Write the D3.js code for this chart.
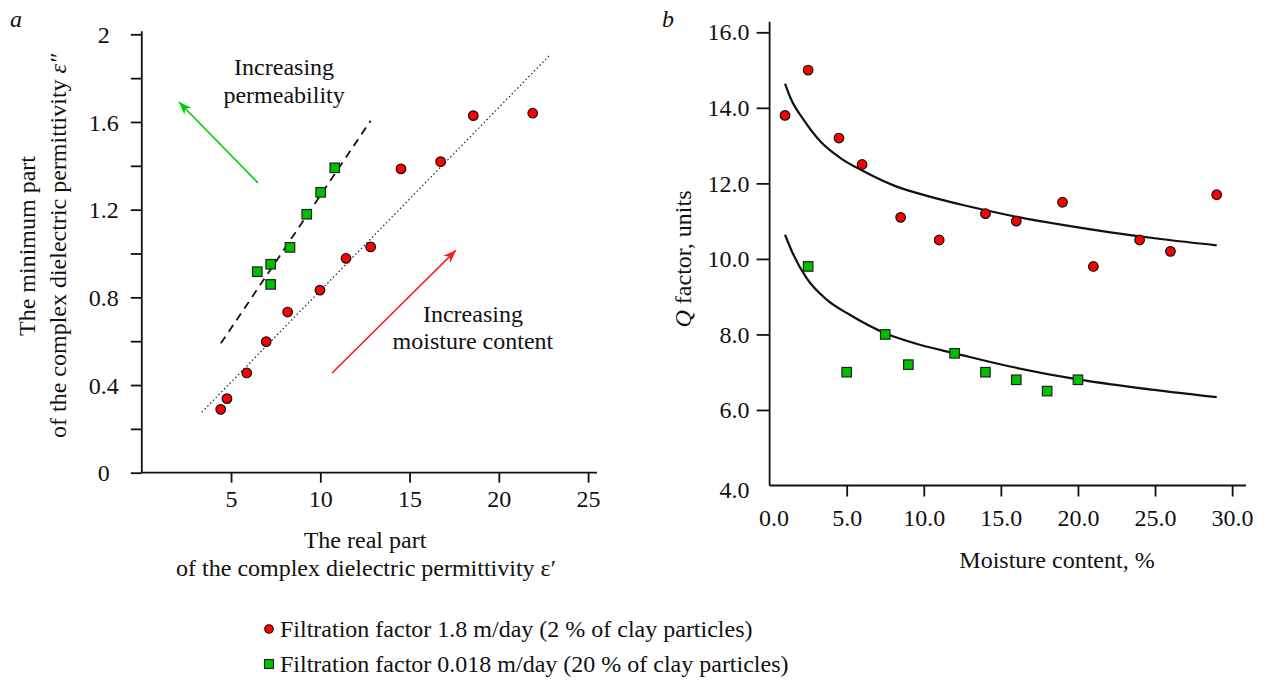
<!DOCTYPE html>
<html>
<head>
<meta charset="utf-8">
<script src="https://cdn.jsdelivr.net/npm/d3@7"></script>
<style>
  body { margin: 0; background: #fff; }
  svg { display: block; font-family: 'Liberation Serif', 'Times New Roman', serif; }
  .axis path, .axis line { stroke: #111; stroke-width: 1.8; }
  .axis text { font-size: 24px; fill: #111; font-family: 'Liberation Serif', serif; }
  .lbl { font-size: 24px; fill: #111; }
</style>
</head>
<body>
<div id="vis"></div>
<script>

/* Data */
/* ---- */

// a: real part vs imaginary part of the permittivity
var aRedX   = [4.42, 4.77, 5.88, 6.97, 8.17, 9.98, 11.44, 12.82, 14.52, 16.74, 18.57, 21.90];
var aRedY   = [0.289, 0.338, 0.455, 0.598, 0.733, 0.833, 0.978, 1.030, 1.386, 1.419, 1.629, 1.640];
var aGreenX = [6.47, 7.22, 7.22, 8.30, 9.24, 10.02, 10.81];
var aGreenY = [0.917, 0.951, 0.859, 1.028, 1.179, 1.279, 1.391];
var aRedTrend   = [[3.36, 0.276], [22.81, 1.901]];   // dotted
var aGreenTrend = [[4.43, 0.590], [12.82, 1.606]];   // dashed
var aXTicks = [5, 10, 15, 20, 25];
var aYTicks = [0, 0.2, 0.4, 0.6, 0.8, 1.0, 1.2, 1.4, 1.6, 1.8, 2.0];

// b: moisture content vs Q factor
var bRedX   = [1.0, 2.5, 4.5, 6.0, 8.5, 11.0, 14.0, 16.0, 19.0, 21.0, 24.0, 26.0, 29.0];
var bRedY   = [13.8, 15.0, 13.2, 12.5, 11.1, 10.5, 11.2, 11.0, 11.5, 9.8, 10.5, 10.2, 11.7];
var bGreenX = [2.5, 5.0, 7.5, 9.0, 12.0, 14.0, 16.0, 18.0, 20.0];
var bGreenY = [9.8, 7.0, 8.0, 7.2, 7.5, 7.0, 6.8, 6.5, 6.8];
var bUpperX = [1.0, 1.4, 2.2, 3.3, 4.6, 6.1, 8.2, 10.4, 12.6, 15.6, 19.0, 22.0, 25.5, 29.0];
var bUpperY = [14.64, 14.22, 13.69, 13.11, 12.67, 12.32, 11.92, 11.65, 11.42, 11.15, 10.90, 10.71, 10.52, 10.36];
var bLowerX = [1.0, 1.5, 2.4, 3.7, 5.2, 7.5, 9.8, 12.0, 15.6, 20.0, 24.0, 29.0];
var bLowerY = [10.64, 10.15, 9.49, 8.92, 8.52, 8.03, 7.72, 7.50, 7.15, 6.81, 6.58, 6.34];
var bXTicks = [0, 5, 10, 15, 20, 25, 30];
var bYTicks = [4, 6, 8, 10, 12, 14, 16];

var legendLabels = [
  'Filtration factor 1.8 m/day (2 % of clay particles)',
  'Filtration factor 0.018 m/day (20 % of clay particles)'
];

var RED = '#ff0000', GREEN = '#00c000';

/* Helpers */
/* ------- */

function zip(xs, ys) { return xs.map(function(x, i) { return [x, ys[i]]; }); }

function drawCircles(g, pts, x, y) {
  g.selectAll(null).data(pts).enter().append('circle')
    .attr('cx', function(d) { return x(d[0]); })
    .attr('cy', function(d) { return y(d[1]); })
    .attr('r', 4.8)
    .attr('fill', RED).attr('stroke', '#111').attr('stroke-width', 1.2);
}

function drawSquares(g, pts, x, y) {
  var s = 9.5;
  g.selectAll(null).data(pts).enter().append('rect')
    .attr('x', function(d) { return x(d[0]) - s / 2; })
    .attr('y', function(d) { return y(d[1]) - s / 2; })
    .attr('width', s).attr('height', s)
    .attr('fill', GREEN).attr('stroke', '#222').attr('stroke-width', 1.2);
}

function arrow(g, from, to, colour, x, y) {
  var x1 = x(from[0]), y1 = y(from[1]), x2 = x(to[0]), y2 = y(to[1]);
  var ang = Math.atan2(y2 - y1, x2 - x1) * 180 / Math.PI;
  g.append('line')
    .attr('x1', x1).attr('y1', y1).attr('x2', x2).attr('y2', y2)
    .attr('stroke', colour).attr('stroke-width', 1.6);
  g.append('path')
    .attr('d', 'M0,0 L-13,-5 L-9,0 L-13,5 Z')
    .attr('fill', colour)
    .attr('transform', 'translate(' + x2 + ',' + y2 + ') rotate(' + ang + ')');
}

/* Setup */
/* ----- */

var svg = d3.select('#vis').append('svg')
  .attr('width', 1265).attr('height', 680);

/* Panel a */
/* ------- */

function drawPanelA() {
  var x = d3.scaleLinear().domain([0, 25.5]).range([141.8, 597]);
  var y = d3.scaleLinear().domain([0, 2]).range([472.7, 34.3]);
  var g = svg.append('g');

  // axes
  var yAxis = d3.axisLeft(y).tickValues(aYTicks).tickSize(11).tickPadding(0)
    .tickFormat(function(d) { return Math.round(d * 10) % 4 === 0 ? d3.format('~g')(d) : ''; });
  var ya = g.append('g').attr('class', 'axis').attr('transform', 'translate(' + x(0) + ',0)').call(yAxis);
  ya.select('.domain').attr('d', 'M0,' + y(0) + 'V' + (y(2) - 3));
  ya.selectAll('text').attr('text-anchor', 'middle').attr('x', -38).attr('dy', '0.34em');

  var xAxis = d3.axisBottom(x).tickValues(aXTicks).tickSize(10).tickPadding(7);
  var xa = g.append('g').attr('class', 'axis').attr('transform', 'translate(0,' + y(0) + ')').call(xAxis);
  xa.select('.domain').attr('d', 'M' + x(0) + ',0H' + x(25.5));

  // trend lines
  var line = d3.line().x(function(d) { return x(d[0]); }).y(function(d) { return y(d[1]); });
  g.append('path').datum(aRedTrend).attr('d', line)
    .attr('fill', 'none').attr('stroke', '#222').attr('stroke-width', 1.2).attr('stroke-dasharray', '1.5,2.5');
  g.append('path').datum(aGreenTrend).attr('d', line)
    .attr('fill', 'none').attr('stroke', '#111').attr('stroke-width', 1.8).attr('stroke-dasharray', '8,6');

  drawCircles(g, zip(aRedX, aRedY), x, y);
  drawSquares(g, zip(aGreenX, aGreenY), x, y);

  // annotations
  arrow(g, [6.51, 1.322], [2.08, 1.691], '#00cc00', x, y);
  arrow(g, [10.66, 0.455], [17.60, 1.015], '#ff1a1a', x, y);

  g.append('text').attr('class', 'lbl').attr('text-anchor', 'middle')
    .attr('x', x(7.97)).attr('y', y(1.814)).text('Increasing');
  g.append('text').attr('class', 'lbl').attr('text-anchor', 'middle')
    .attr('x', x(7.97)).attr('y', y(1.687)).text('permeability');
  g.append('text').attr('class', 'lbl').attr('text-anchor', 'middle')
    .attr('x', x(18.55)).attr('y', y(0.686)).text('Increasing');
  g.append('text').attr('class', 'lbl').attr('text-anchor', 'middle')
    .attr('x', x(18.55)).attr('y', y(0.563)).text('moisture content');

  // axis titles
  var yt = g.append('text').attr('class', 'lbl').attr('text-anchor', 'middle')
    .attr('transform', 'translate(35,246) rotate(-90)');
  yt.append('tspan').attr('x', 0).attr('y', 0).text('The minimum part');
  yt.append('tspan').attr('x', 0).attr('y', 31).text('of the complex dielectric permittivity ');
  yt.append('tspan').attr('font-style', 'italic').text('ε\u2033');

  g.append('text').attr('class', 'lbl').attr('text-anchor', 'middle')
    .attr('x', 365).attr('y', 548).text('The real part');
  g.append('text').attr('class', 'lbl').attr('text-anchor', 'middle')
    .attr('x', 366).attr('y', 576).text('of the complex dielectric permittivity ε\u2032');

  g.append('text').attr('class', 'lbl').attr('font-style', 'italic')
    .attr('x', 10).attr('y', 27).text('a');
}

/* Panel b */
/* ------- */

function drawPanelB() {
  var x = d3.scaleLinear().domain([0, 30.9]).range([769.6, 1246]);
  var y = d3.scaleLinear().domain([4, 16]).range([485.5, 32.3]);
  var g = svg.append('g');

  var yAxis = d3.axisLeft(y).tickValues(bYTicks).tickSize(13).tickPadding(7)
    .tickFormat(d3.format('.1f'));
  var ya = g.append('g').attr('class', 'axis').attr('transform', 'translate(' + x(0) + ',0)').call(yAxis);
  ya.select('.domain').attr('d', 'M0,' + y(4) + 'V21.7');
  ya.selectAll('.tick').filter(function(d) { return d === 4; }).select('line').remove();
  ya.selectAll('.tick').filter(function(d) { return d === 4; }).select('text').attr('dy', '0.5em');

  var xAxis = d3.axisBottom(x).tickValues(bXTicks).tickSize(11).tickPadding(12)
    .tickFormat(d3.format('.1f'));
  var xa = g.append('g').attr('class', 'axis').attr('transform', 'translate(0,' + y(4) + ')').call(xAxis);
  xa.select('.domain').attr('d', 'M' + x(0) + ',0H' + x(30.9));
  xa.selectAll('.tick').filter(function(d) { return d === 0; }).select('line').remove();
  xa.selectAll('.tick').filter(function(d) { return d === 0; }).select('text').attr('x', 4);

  var line = d3.line().curve(d3.curveMonotoneX)
    .x(function(d) { return x(d[0]); }).y(function(d) { return y(d[1]); });
  g.append('path').datum(zip(bUpperX, bUpperY)).attr('d', line)
    .attr('fill', 'none').attr('stroke', '#111').attr('stroke-width', 2.2);
  g.append('path').datum(zip(bLowerX, bLowerY)).attr('d', line)
    .attr('fill', 'none').attr('stroke', '#111').attr('stroke-width', 2.2);

  drawCircles(g, zip(bRedX, bRedY), x, y);
  drawSquares(g, zip(bGreenX, bGreenY), x, y);

  var yt = g.append('text').attr('class', 'lbl').attr('text-anchor', 'middle')
    .attr('transform', 'translate(691,259) rotate(-90)');
  yt.append('tspan').attr('font-style', 'italic').text('Q');
  yt.append('tspan').text(' factor, units');

  g.append('text').attr('class', 'lbl').attr('text-anchor', 'middle')
    .attr('x', 1057).attr('y', 568).text('Moisture content, %');

  g.append('text').attr('class', 'lbl').attr('font-style', 'italic')
    .attr('x', 662).attr('y', 27).text('b');
}

/* Legend */
/* ------ */

function drawLegend() {
  var g = svg.append('g').attr('transform', 'translate(269,0)');
  var rows = [629, 664];
  g.append('circle').attr('cx', 0).attr('cy', rows[0]).attr('r', 4.3)
    .attr('fill', RED).attr('stroke', '#111').attr('stroke-width', 1.1);
  g.append('rect').attr('x', -4.5).attr('y', rows[1] - 4.5).attr('width', 9).attr('height', 9)
    .attr('fill', GREEN).attr('stroke', '#222').attr('stroke-width', 1.1);
  g.selectAll(null).data(legendLabels).enter().append('text')
    .attr('class', 'lbl')
    .attr('x', 11)
    .attr('y', function(d, i) { return rows[i] + 8; })
    .text(function(d) { return d; });
}

drawPanelA();
drawPanelB();
drawLegend();

</script>
</body>
</html>
